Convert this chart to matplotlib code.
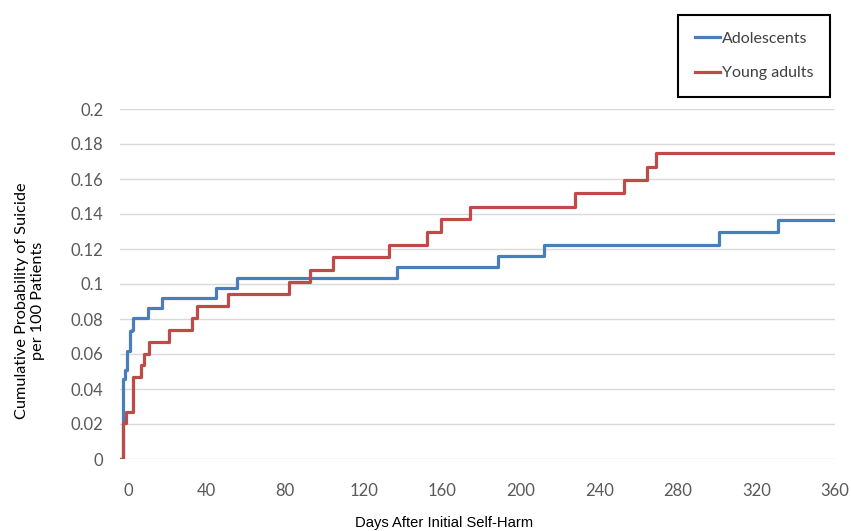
import numpy as np
import matplotlib.pyplot as plt

# dias e probabilidade acumulada
dias_adol = [-4, -2.3, -1.5, -0.3, 1.1, 1.9, 2.8, 10.5, 17.5, 45.1, 55.7,
             137.2, 188.3, 212, 301, 331, 359]
prob_adol = [0, 0.046, 0.051, 0.062, 0.073, 0.074, 0.0805, 0.0862, 0.0918,
             0.098, 0.1036, 0.110, 0.116, 0.1225, 0.1295, 0.1365, 0.1365]

dias_jovem = [-4, -2.6, -0.9, 2.4, 6.5, 8.3, 10.6, 21.0, 32.7, 35.2, 50.8,
              81.8, 92.8, 104.6, 132.7, 152.1, 159.6, 174.1, 227.8, 252.4,
              264.3, 268.7, 359]
prob_jovem = [0, 0.0205, 0.0267, 0.0468, 0.0535, 0.0602, 0.067, 0.0735,
              0.0804, 0.0874, 0.0941, 0.1012, 0.1082, 0.1154, 0.1225, 0.1295,
              0.1371, 0.1442, 0.152, 0.1596, 0.167, 0.1749, 0.1749]

x_ticks = [0, 40, 80, 120, 160, 200, 240, 280, 320, 360]
y_ticks = [0, 0.02, 0.04, 0.06, 0.08, 0.1, 0.12, 0.14, 0.16, 0.18, 0.2]
y_labels = ["0", "0.02", "0.04", "0.06", "0.08", "0.1", "0.12", "0.14",
            "0.16", "0.18", "0.2"]

fonte = ['Lato', 'DejaVu Sans']
cinza = '#595959'

fig = plt.figure(figsize=(8.51, 5.31), dpi=100)
ax = fig.add_axes([120/851, 72/531, 715/851, 350/531])

ax.plot(dias_adol, prob_adol, drawstyle='steps-post', color='#4a7ebb',
        lw=2.3, label='Adolescents', zorder=3)
ax.plot(dias_jovem, prob_jovem, drawstyle='steps-post', color='#be4b48',
        lw=2.3, label='Young adults', zorder=3)

ax.set_xlim(-4, 359)
ax.set_ylim(0, 0.2)
ax.set_xticks(x_ticks)
ax.set_yticks(y_ticks)
ax.set_yticklabels(y_labels)
for s in ax.spines.values():
    s.set_visible(False)
ax.grid(axis='y', color='#d9d9d9', lw=1)
ax.set_axisbelow(True)
ax.tick_params(length=0, labelsize=12, labelcolor=cinza)
ax.tick_params(axis='x', pad=17)
ax.tick_params(axis='y', pad=12)
for t in ax.get_xticklabels() + ax.get_yticklabels():
    t.set_family(fonte)

fig.text(444/851, 1 - 523/531, 'Days After Initial Self-Harm', ha='center',
         va='center', fontsize=10.6, family=['Liberation Sans', 'DejaVu Sans'])
fig.text(30/851, 1 - 301/531, 'Cumulative Probability of Suicide\nper 100 Patients',
         ha='center', va='center', rotation=90, fontsize=11.7, family=fonte,
         linespacing=1.25)

leg = fig.legend(loc='upper left', bbox_to_anchor=(678/851, 1 - 15/531),
                 prop={'family': fonte, 'size': 11.5},
                 handlelength=1.6, handletextpad=0.1, labelspacing=1.25,
                 borderpad=1.05, borderaxespad=0, fancybox=False, framealpha=1)
leg.get_frame().set_edgecolor('black')
leg.get_frame().set_linewidth(1.5)
for t in leg.get_texts():
    t.set_color('#404040')

fig.savefig('out.png', dpi=100)
